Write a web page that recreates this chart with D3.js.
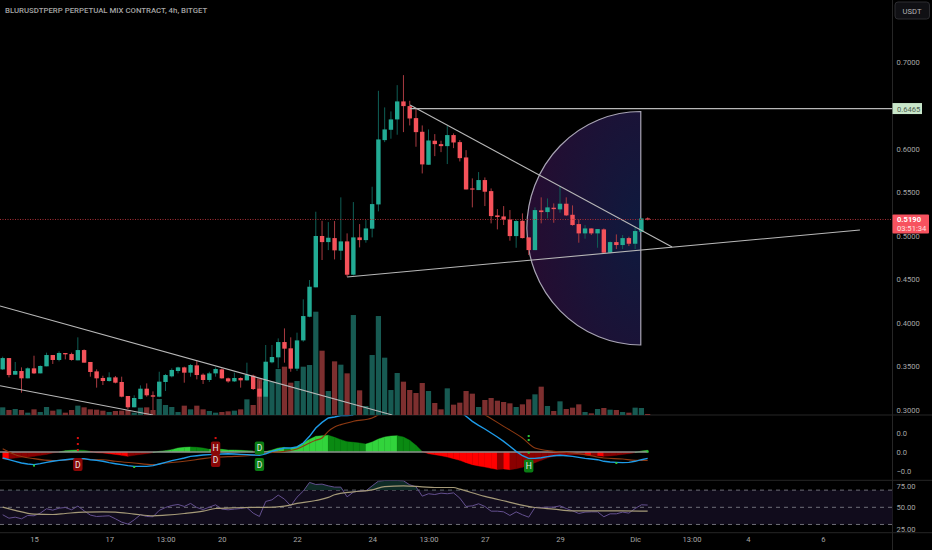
<!DOCTYPE html>
<html lang="en">

<head>
    <meta charset="UTF-8">
    <title>BLURUSDTPERP</title>
    <style>
        html, body { margin: 0; padding: 0; background: #000; }
        svg { display: block; }
        text { font-family: Roboto, sans-serif; }
    </style>
</head>

<body>
    <svg id="chart"></svg>

    <script src="https://cdn.jsdelivr.net/npm/d3@7"></script>
    <script>
        const opens = [.3467,.3597,.3406,.3448,.3364,.3479,.3421,.3502,.3632,.3575,.3655,.3643,.3571,.3689,.3552,.3444,.3368,.3333,.3375,.3322,.3161,.3031,.3126,.3245,.3169,.3153,.3322,.3387,.3448,.3490,.3429,.3513,.3406,.3345,.3421,.3467,.3364,.3329,.3368,.3341,.3394,.3245,.3153,.3548,.3605,.3781,.3709,.3475,.3800,.4072,.4410,.5000,.4930,.4976,.4831,.4938,.4555,.4984,.4953,.5084,.5363,.6102,.6221,.6340,.6547,.6493,.6355,.6198,.5819,.6095,.6056,.6033,.6160,.6079,.5903,.5547,.5528,.5643,.5516,.5237,.5225,.5191,.4999,.5175,.4984,.4838,.5294,.5275,.5325,.5306,.5371,.5244,.5137,.5030,.5087,.5030,.5076,.4808,.4930,.4896,.4976,.4911,.5049,.5202];
        const highs = [.3613,.3597,.3552,.3490,.3490,.3624,.3513,.3659,.3632,.3674,.3655,.3659,.3835,.3697,.3552,.3467,.3394,.3433,.3391,.3383,.3161,.3169,.3283,.3306,.3214,.3440,.3414,.3479,.3498,.3498,.3529,.3567,.3421,.3440,.3490,.3479,.3372,.3429,.3375,.3544,.3406,.3337,.3747,.3747,.3823,.3938,.3835,.3889,.4272,.4494,.5279,.5175,.5160,.5172,.5444,.5030,.5390,.5137,.5183,.5566,.6669,.6478,.6432,.6734,.6849,.6554,.6466,.6271,.6225,.6171,.6095,.6263,.6179,.6102,.5987,.5662,.5735,.5673,.5547,.5309,.5344,.5298,.5191,.5260,.4984,.5329,.5444,.5432,.5375,.5574,.5444,.5352,.5191,.5126,.5087,.5080,.5087,.4938,.5018,.5011,.4992,.5107,.5202,.5214];
        const lows = [.3460,.3375,.3406,.3199,.3364,.3414,.3421,.3502,.3529,.3559,.3582,.3567,.3571,.3544,.3383,.3257,.3287,.3326,.3306,.3146,.3011,.3031,.3123,.3153,.3000,.3146,.3218,.3375,.3421,.3314,.3383,.3352,.3299,.3322,.3383,.3360,.3314,.3322,.3257,.3337,.3230,.2962,.3153,.3536,.3479,.3544,.3440,.3448,.3785,.4066,.4410,.4724,.4838,.4731,.4724,.4532,.4547,.4869,.4923,.4984,.5283,.6079,.6118,.6164,.6194,.6271,.6026,.5719,.5819,.5918,.5964,.5827,.6010,.5857,.5535,.5329,.5528,.5344,.5145,.5076,.5126,.4946,.4865,.4972,.4781,.4838,.5145,.5202,.5152,.5267,.5229,.5118,.4923,.4969,.5011,.4865,.4808,.4800,.4850,.4850,.4884,.4850,.5045,.5180];
        const closes = [.3597,.3402,.3448,.3364,.3479,.3421,.3506,.3632,.3575,.3655,.3640,.3575,.3689,.3544,.3437,.3364,.3333,.3375,.3314,.3153,.3031,.3138,.3245,.3169,.3153,.3326,.3402,.3460,.3490,.3429,.3517,.3402,.3345,.3421,.3471,.3364,.3329,.3368,.3341,.3402,.3241,.3153,.3555,.3609,.3781,.3705,.3475,.3800,.4080,.4417,.5000,.4930,.4980,.4835,.4938,.4555,.4984,.4953,.5087,.5367,.6110,.6225,.6340,.6547,.6493,.6351,.6194,.5823,.6098,.6056,.6033,.6160,.6075,.5895,.5535,.5535,.5643,.5509,.5229,.5218,.5187,.4999,.5172,.4976,.4838,.5298,.5275,.5329,.5309,.5371,.5237,.5126,.5030,.5087,.5030,.5080,.4808,.4930,.4896,.4976,.4911,.5057,.5202,.5190];
        const volumes = [23,15,18,15,7,17,9,24,13,17,7,15,28,23,17,16,13,9,12,13,15,7,22,23,15,48,30,24,9,28,17,28,17,12,7,9,11,13,17,47,30,110,100,100,138,145,97,102,145,150,310,193,72,161,151,125,300,74,27,180,297,172,75,126,100,75,66,96,72,36,17,80,31,37,72,64,24,45,51,43,39,35,24,32,47,62,85,27,12,41,18,22,32,9,5,18,21,16,15,9,7,22,21,3];

        const histogram = [-.0074,-.0070,-.0063,-.0056,-.0053,-.0046,-.0035,-.0025,-.0011,0,.0014,.0018,.0021,.0018,.0007,-.0007,-.0011,-.0018,-.0025,-.0035,-.0046,-.0035,-.0025,-.0018,-.0007,.0007,.0014,.0025,.0042,.0049,.0053,.0049,.0042,.0028,.0035,.0028,.0021,.0021,.0018,.0014,.0011,-.0004,.0004,.0021,.0042,.0049,.0039,.0056,.0095,.0133,.0165,.0172,.0176,.0154,.0130,.0109,.0102,.0095,.0084,.0105,.0137,.0158,.0168,.0172,.0158,.0123,.0070,.0004,-.0018,-.0028,-.0039,-.0053,-.0070,-.0088,-.0112,-.0133,-.0147,-.0158,-.0172,-.0183,-.0179,-.0186,-.0176,-.0161,-.0140,-.0112,-.0088,-.0063,-.0046,-.0039,-.0032,-.0028,-.0028,-.0032,-.0039,-.0039,-.0046,-.0042,-.0035,-.0025,-.0018,-.0007,.0011,.0018];
        // G rising green, g falling green, R falling red, r recovering red
        const histogramState = 'RRrrrrrrrrGGGggRRRRRRrrrrGGGGGGgggGGGGGGGrGGGGgGGGGGGggggggGGGGGggggRRRRRRRRRRRRrRrrrrrrrrrrrrRrRrrrrrGG'.split('');
        const macd = [-.0063,-.0081,-.0098,-.0116,-.0126,-.0133,-.0123,-.0109,-.0098,-.0088,-.0081,-.0074,-.0070,-.0070,-.0081,-.0088,-.0098,-.0112,-.0123,-.0133,-.0144,-.0151,-.0151,-.0151,-.0144,-.0126,-.0109,-.0091,-.0077,-.0063,-.0046,-.0039,-.0032,-.0028,-.0025,-.0021,-.0018,-.0021,-.0025,-.0028,-.0032,-.0035,-.0018,.0007,.0025,.0042,.0042,.0053,.0095,.0165,.0253,.0312,.0358,.0369,.0383,.0383,.0390,null,null,null,null,null,null,null,null,null,null,null,null,null,null,null,null,.0428,.0376,.0323,.0281,.0242,.0200,.0158,.0112,.0060,.0007,-.0039,-.0067,-.0067,-.0060,-.0049,-.0039,-.0035,-.0039,-.0046,-.0056,-.0067,-.0074,-.0081,-.0098,-.0105,-.0109,-.0112,-.0109,-.0098,-.0081,-.0067];
        const signalBars = [0,2,5,8,10,13,16,18,21,24,26,29,32,34,37,40,42,45,47,49,50,51,52,53,54,56,59,60,null,77,80,83,85,88,91,93,96,99,101,103];
        const signalValues = [.0035,-.0028,-.0070,-.0091,-.0084,-.0077,-.0081,-.0098,-.0116,-.0133,-.0116,-.0098,-.0070,-.0056,-.0046,-.0035,-.0011,.0007,.0032,.0095,.0123,.0147,.0218,.0263,.0288,.0323,.0358,.0393,null,.0393,.0270,.0147,.0042,.0007,-.0011,-.0028,-.0063,-.0074,-.0088,-.0088];

        const rsi = [41.3,37.3,38.5,36.6,40.5,40.1,43.2,48.3,46.7,49.0,49.8,47.1,51.4,45.9,40.9,39.3,39.7,40.1,36.6,32.7,30.4,35.4,41.3,39.3,39.0,46.4,49.8,52.1,53.3,51.0,54.5,49.8,47.4,50.2,52.9,47.9,47.1,47.9,48.6,49.8,43.2,39.3,56.8,58.7,64.2,59.5,51.7,61.8,68.9,79.0,76.6,77.0,75.0,73.5,73.5,62.2,67.7,69.2,69.2,75.0,80.5,81.2,81.2,81.2,80.9,76.2,73.9,63.0,65.8,64.9,66.5,65.8,66.8,60.7,51.0,51.7,54.1,51.0,45.5,45.5,44.7,40.5,44.7,41.3,38.5,49.8,49.8,50.2,50.2,51.7,48.6,45.9,42.8,44.4,44.7,44.7,39.0,42.4,42.4,44.4,43.2,48.6,52.9,52.6];
        const rsiMaBars = [0,2,5,8,10,13,16,18,21,24,26,29,32,34,37,40,42,45,47,50,52,53,56,59,61,64,67,69,72,73,77,80,85,88,91,95,99,103];
        const rsiMaValues = [50.2,46.4,42.1,41.6,42.8,44.4,44.7,44.4,42.1,40.1,40.9,42.8,45.5,48.6,49.5,49.8,49.8,51.4,54.5,57.9,61.5,64.6,68.0,70.4,74.2,75.0,73.9,73.1,73.1,71.1,62.7,57.6,49.8,47.9,45.9,45.9,45.9,45.5];

        const tagBars = [12,34,34,41,41,84];
        const tagValues = [-.0132,.0042,-.0089,.0042,-.0132,-.0147];
        const tagTexts = ['D','H','D','D','D','H'];
        const tagKinds = ['sell','sell','sell','buy','buy','buy'];
        const dotBars = [12,12,12,34,5,21,84,84,84,98,103];
        const dotValues = [.0147,.0084,.0021,.0147,-.0143,-.0158,.0168,.0126,-.0007,-.0116,.0004];
        const dotKinds = ['sell','sell','sell','sell','buy','buy','buy','buy','buy','buy','buy'];

        // trend lines as [bar, price, bar, price]
        const trendLines = [
            [65.05, .6506, 106.9, .4874],
            [55, .4529, 136.9, .5069],
            [-.43, .4195, 62.2, .2943],
            [-.43, .3279, 24, .2943]
        ];
        const resistanceBar = 65.05;
        const resistancePrice = .6465;
        const lastPrice = .5190;
        const arcLeftBar = 83.7, arcRightBar = 101.9, arcTopPrice = .6431, arcBottomPrice = .3747;

        const timeBars = [5,17,26,35,47,59,68,77,89,101,110,119,131];
        const timeLabels = ['15','17','13:00','20','22','24','13:00','27','29','Dic','13:00','4','6'];
        // 0.6500 sits under the resistance label in the picture
        const priceTicks = [.30,.35,.40,.45,.50,.55,.60,.70];
        const macdTicks = [.02,0,-.02];
        const macdTickLabels = ['0.0','0.0','\u22120.0'];
        const rsiTicks = [75,50,25];
        const rsiBands = [70,50,30];

        const width = 932, height = 550, axisX = 892.5;
        const chart = d3.select('#chart').attr('width', width).attr('height', height);
        chart.append('rect').attr('width', width).attr('height', height).attr('fill', '#000');

        const x = d3.scaleLinear().domain([0, 131]).range([2.7, 823]);
        const y = d3.scaleLinear().domain([.3, .7]).range([410, 62]);
        const yVol = d3.scaleLinear().domain([0, 310]).range([415, 311.7]);
        const yMacd = d3.scaleLinear().domain([-.02, .02]).range([471, 433]);
        const yRsi = d3.scaleLinear().domain([25, 75]).range([528.75, 485.85]);

        const defs = chart.append('defs');
        const clip = (id, top, bottom) => defs.append('clipPath').attr('id', id).append('rect')
            .attr('x', 0).attr('y', top).attr('width', axisX).attr('height', bottom - top);
        clip('pricePane', 0, 415);
        clip('macdPane', 415.5, 480);
        clip('rsiPane', 480.5, 533);
        clip('overbought', 480.5, yRsi(70));

        const arcFill = defs.append('radialGradient').attr('id', 'arcFill')
            .attr('cx', 1).attr('cy', .5).attr('r', 1);
        arcFill.append('stop').attr('offset', '0%').attr('stop-color', '#0e1a3e');
        arcFill.append('stop').attr('offset', '100%').attr('stop-color', '#260c30');

        // grid of pane separators
        chart.selectAll('.sep').data([415, 480.3, 532.7]).enter().append('line')
            .attr('x1', 0).attr('x2', width).attr('y1', d => d).attr('y2', d => d)
            .attr('stroke', '#262626');
        chart.append('line').attr('x1', axisX).attr('x2', axisX).attr('y1', 0).attr('y2', height)
            .attr('stroke', '#262626');

        const pricePane = chart.append('g').attr('clip-path', 'url(#pricePane)');

        // half circle
        const arcRx = x(arcRightBar) - x(arcLeftBar);
        const arcRy = (y(arcBottomPrice) - y(arcTopPrice)) / 2;
        pricePane.append('path')
            .attr('d', `M${x(arcRightBar)},${y(arcTopPrice)} A${arcRx},${arcRy} 0 0 0 ${x(arcRightBar)},${y(arcBottomPrice)} Z`)
            .attr('fill', 'url(#arcFill)')
            .attr('stroke', '#a8a4b4').attr('stroke-width', 1.2);

        // volume
        pricePane.selectAll('.vol').data(volumes).enter().append('rect')
            .attr('x', (d, i) => x(i) - 2.6)
            .attr('width', 5.2)
            .attr('y', d => yVol(d))
            .attr('height', d => yVol(0) - yVol(d))
            .attr('fill', (d, i) => closes[i] >= opens[i] ? '#175a52' : '#7d2f2f');

        // last price line
        chart.append('line').attr('x1', 0).attr('x2', axisX).attr('y1', y(lastPrice)).attr('y2', y(lastPrice))
            .attr('stroke', '#a82f36').attr('stroke-width', 1).attr('stroke-dasharray', '1 1.5');

        // candles
        const candles = pricePane.selectAll('.candle').data(closes).enter().append('g');
        candles.append('line')
            .attr('x1', (d, i) => x(i)).attr('x2', (d, i) => x(i))
            .attr('y1', (d, i) => y(highs[i])).attr('y2', (d, i) => y(lows[i]))
            .attr('stroke', (d, i) => d >= opens[i] ? '#0f5f56' : '#a83a40');
        candles.append('rect')
            .attr('x', (d, i) => x(i) - 2.2)
            .attr('width', 4.4)
            .attr('y', (d, i) => y(Math.max(d, opens[i])))
            .attr('height', (d, i) => Math.max(1.2, Math.abs(y(d) - y(opens[i]))))
            .attr('fill', (d, i) => d >= opens[i] ? '#22ab94' : '#f4525a');

        // drawings
        pricePane.selectAll('.trend').data(trendLines).enter().append('line')
            .attr('x1', d => x(d[0])).attr('y1', d => y(d[1]))
            .attr('x2', d => x(d[2])).attr('y2', d => y(d[3]))
            .attr('stroke', '#b8b8b8').attr('stroke-width', 1.1);
        pricePane.append('line')
            .attr('x1', x(resistanceBar)).attr('x2', axisX)
            .attr('y1', y(resistancePrice)).attr('y2', y(resistancePrice))
            .attr('stroke', '#b8b8b8').attr('stroke-width', 1.2);

        // macd pane
        const macdPane = chart.append('g').attr('clip-path', 'url(#macdPane)');
        const histColor = { G: '#32d43c', g: '#0a8a12', R: '#ff0000', r: '#8a0000' };
        const histArea = d3.area().x(d => x(d)).y0(yMacd(0)).y1(d => yMacd(histogram[d]));
        macdPane.selectAll('.hist').data(histogram.slice(1)).enter().append('path')
            .attr('d', (d, i) => histArea([i, i + 1]))
            .attr('fill', (d, i) => histColor[histogramState[i + 1]])
            .attr('stroke', (d, i) => histColor[histogramState[i + 1]])
            .attr('stroke-width', .4);
        macdPane.append('line')
            .attr('x1', 0).attr('x2', x(histogram.length - 1))
            .attr('y1', yMacd(0)).attr('y2', yMacd(0))
            .attr('stroke', '#8d8d8d').attr('stroke-width', 1.6);

        const signalLine = d3.line().defined(d => d !== null).x(d => x(signalBars[d])).y(d => yMacd(signalValues[d]))
            .curve(d3.curveMonotoneX);
        const signalIndex = signalBars.map((b, i) => b === null ? null : i);
        macdPane.append('path').attr('d', signalLine(signalIndex))
            .attr('fill', 'none').attr('stroke', '#8f3a12').attr('stroke-width', 1.1);
        const macdLine = d3.line().defined(d => d !== null).x((d, i) => x(i)).y(d => yMacd(d));
        macdPane.append('path').attr('d', macdLine(macd))
            .attr('fill', 'none').attr('stroke', '#1e9be8').attr('stroke-width', 1.4);

        const kindColor = { sell: '#8a0707', buy: '#0a7d14' };
        const dotColor = { sell: '#d81010', buy: '#2ec93a' };
        macdPane.selectAll('.dot').data(dotBars).enter().append('rect')
            .attr('x', d => x(d) - 1).attr('width', 2)
            .attr('y', (d, i) => yMacd(dotValues[i]) - 1).attr('height', 2)
            .attr('fill', (d, i) => dotColor[dotKinds[i]]);

        const tags = macdPane.selectAll('.tag').data(tagBars).enter().append('g')
            .attr('transform', (d, i) => `translate(${x(d)},${yMacd(tagValues[i])})`);
        tags.append('rect')
            .attr('x', -4.7).attr('y', -6.5).attr('width', 9.4).attr('height', 13).attr('rx', 2)
            .attr('fill', (d, i) => kindColor[tagKinds[i]]);
        tags.append('text')
            .attr('text-anchor', 'middle').attr('y', 3)
            .attr('font-size', 8.5).attr('fill', '#e6e6e6')
            .text((d, i) => tagTexts[i]);

        // rsi pane
        chart.append('rect').attr('x', 0).attr('width', axisX)
            .attr('y', yRsi(70)).attr('height', yRsi(30) - yRsi(70)).attr('fill', '#110c1c');
        chart.selectAll('.band').data(rsiBands).enter().append('line')
            .attr('x1', 0).attr('x2', axisX).attr('y1', d => yRsi(d)).attr('y2', d => yRsi(d))
            .attr('stroke', '#6e6e78').attr('stroke-dasharray', '4 4');

        const rsiPane = chart.append('g').attr('clip-path', 'url(#rsiPane)');
        rsiPane.append('g').attr('clip-path', 'url(#overbought)').append('path')
            .attr('d', d3.area().x((d, i) => x(i)).y0(yRsi(70)).y1(d => yRsi(d))(rsi))
            .attr('fill', '#0e2b26');
        rsiPane.append('path')
            .attr('d', d3.line().x((d, i) => x(i)).y(d => yRsi(d))(rsi))
            .attr('fill', 'none').attr('stroke', '#64508f').attr('stroke-width', 1);
        rsiPane.append('path')
            .attr('d', d3.line().curve(d3.curveMonotoneX).x(d => x(d)).y((d, i) => yRsi(rsiMaValues[i]))(rsiMaBars))
            .attr('fill', 'none').attr('stroke', '#a59a78').attr('stroke-width', 1.2);

        // axes
        const axisText = g => {
            g.select('.domain').remove();
            g.selectAll('.tick line').remove();
            g.selectAll('.tick text').attr('fill', '#a6a6a6').attr('font-size', 7.6);
        };
        chart.append('g').attr('transform', `translate(${axisX},0)`)
            .call(d3.axisRight(y).tickValues(priceTicks).tickFormat(d3.format('.4f')).tickPadding(4).tickSize(0))
            .call(axisText);
        chart.append('g').attr('transform', `translate(${axisX},0)`)
            .call(d3.axisRight(yMacd).tickValues(macdTicks).tickFormat((d, i) => macdTickLabels[i]).tickPadding(4).tickSize(0))
            .call(axisText);
        chart.append('g').attr('transform', `translate(${axisX},0)`)
            .call(d3.axisRight(yRsi).tickValues(rsiTicks).tickFormat(d3.format('.2f')).tickPadding(4).tickSize(0))
            .call(axisText);
        chart.append('g').attr('transform', 'translate(0,533)')
            .call(d3.axisBottom(x).tickValues(timeBars).tickFormat((d, i) => timeLabels[i]).tickPadding(4).tickSize(0))
            .call(axisText);

        // price labels on the axis
        chart.append('rect').attr('x', axisX).attr('width', 29.5)
            .attr('y', y(resistancePrice) - 5.5).attr('height', 11)
            .attr('fill', '#c8e6c9');
        chart.append('text').attr('x', 897).attr('y', y(resistancePrice) + 3)
            .attr('font-size', 7.6).attr('fill', '#4f5f50')
            .text(d3.format('.4f')(resistancePrice));

        chart.append('rect').attr('x', axisX).attr('width', 36.5)
            .attr('y', y(lastPrice) - 5).attr('height', 19).attr('rx', 1)
            .attr('fill', '#f7525f');
        chart.append('text').attr('x', 897).attr('y', y(lastPrice) + 3)
            .attr('font-size', 7.6).attr('font-weight', 700).attr('fill', '#fff')
            .text(d3.format('.4f')(lastPrice));
        chart.append('text').attr('x', 897).attr('y', y(lastPrice) + 12)
            .attr('font-size', 7.6).attr('fill', '#ffe0e0')
            .text('03:51:34');

        // title and currency button
        chart.append('text').attr('x', 5).attr('y', 13)
            .attr('font-size', 7.8).attr('font-weight', 500).attr('fill', '#a6a6a6')
            .text('BLURUSDTPERP PERPETUAL MIX CONTRACT, 4h, BITGET');
        chart.append('rect').attr('x', 895).attr('y', 2).attr('width', 34.5).attr('height', 17).attr('rx', 3)
            .attr('fill', '#101014').attr('stroke', '#2c2c30');
        chart.append('text').attr('x', 912).attr('y', 14).attr('text-anchor', 'middle')
            .attr('font-size', 7.6).attr('fill', '#b4b4b4')
            .text('USDT');
    </script>
</body>

</html>
